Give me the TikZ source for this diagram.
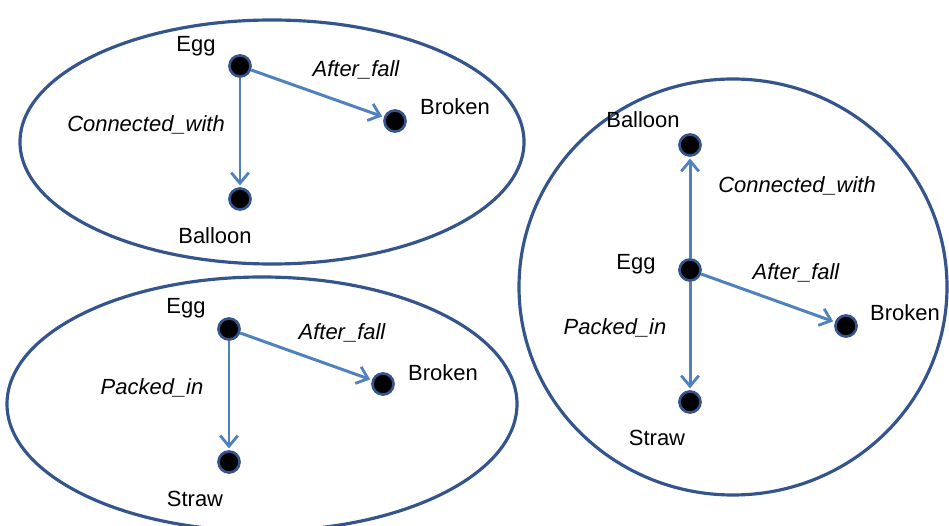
\documentclass[tikz,border=0pt]{standalone}
\usepackage{fontspec}
\setmainfont{Liberation Sans}
\usetikzlibrary{arrows.meta}
\definecolor{rimblue}{RGB}{52,84,140}
\definecolor{arrowblue}{RGB}{79,129,189}

\tikzset{
  dot/.style={circle,fill=black,draw=rimblue,line width=1.5pt,inner sep=0pt,minimum size=12pt},
  rel/.style={draw=arrowblue,line width=1.7pt,-{Straight Barb[length=6pt,width=10pt,line width=1.6pt]},shorten >=1pt},
  frame/.style={draw=rimblue,line width=1.8pt},
  word/.style={font=\fontsize{12.5}{14}\selectfont,inner sep=0pt},
  relword/.style={font=\fontsize{12.5}{14}\selectfont\itshape,inner sep=0pt}
}

\begin{document}
\begin{tikzpicture}[x=0.02cm,y=-0.02cm]
			\useasboundingbox (0,0) rectangle (949,526);
			% top left
			\draw[frame] (272,142) ellipse (252 and 122);
			\node[dot] (e1) at (240,66) {};
			\node[dot] (k1) at (395,121) {};
			\node[dot] (b1) at (240,199) {};
			\node[word] (e1t) at (196,46) {Egg};
			\node[word] (k1t) at (455,107) {Broken};
			\node[word] (b1t) at (215,236) {Balloon};
			\node[relword] (f1) at (356,70) {After\_fall};
			\node[relword] (c1) at (146,125) {Connected\_with};
			\draw[rel] (e1) -- (k1);
			\draw[rel] (e1) -- (b1);
			% bottom left
			\draw[frame] (262,404) ellipse (255 and 127);
			\node[dot] (e2) at (229,329) {};
			\node[dot] (k2) at (383,384) {};
			\node[dot] (s2) at (229,462) {};
			\node[word] (e2t) at (186,308) {Egg};
			\node[word] (k2t) at (443,373) {Broken};
			\node[word] (s2t) at (195,499) {Straw};
			\node[relword] (f2) at (342,333) {After\_fall};
			\node[relword] (p2) at (152,388) {Packed\_in};
			\draw[rel] (e2) -- (k2);
			\draw[rel] (e2) -- (s2);
			% right
			\draw[frame] (733,287) ellipse (214 and 208);
			\node[dot] (e3) at (690,270) {};
			\node[dot] (b3) at (690,145) {};
			\node[dot] (k3) at (846,326) {};
			\node[dot] (s3) at (690,402) {};
			\node[word] (e3t) at (636,264) {Egg};
			\node[word] (b3t) at (643,120) {Balloon};
			\node[word] (k3t) at (905,313) {Broken};
			\node[word] (s3t) at (657,438) {Straw};
			\node[relword] (c3) at (797,186) {Connected\_with};
			\node[relword] (f3) at (796,273) {After\_fall};
			\node[relword] (p3) at (615,328) {Packed\_in};
			\draw[rel] (e3) -- (b3);
			\draw[rel] (e3) -- (k3);
			\draw[rel] (e3) -- (s3);
		\end{tikzpicture}
\end{document}
